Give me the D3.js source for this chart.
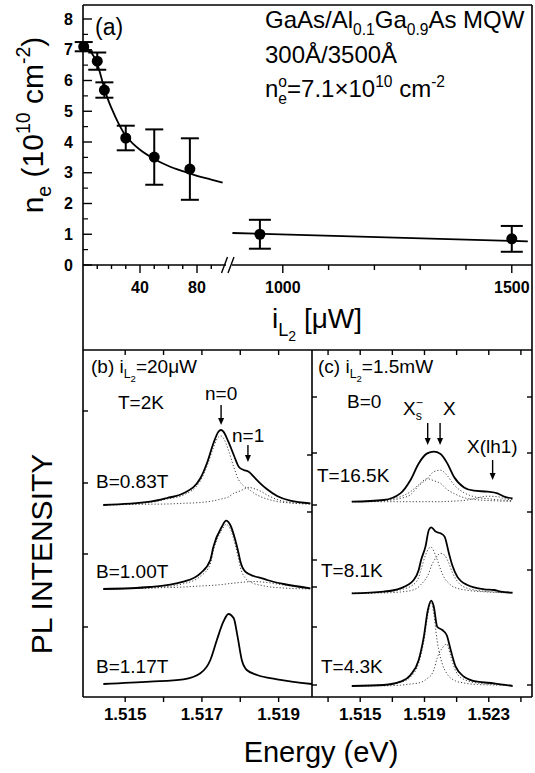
<!DOCTYPE html>
<html><head><meta charset="utf-8">
<script src="https://cdn.jsdelivr.net/npm/d3@7"></script>
<style>
body{margin:0;background:#fff}
text{font-family:"Liberation Sans",Arial,Helvetica,sans-serif;fill:#000}
</style></head><body>
<svg id="fig" width="535" height="773"></svg>
<script>
// ---------- DATA : panel (a) ----------
const powerLow = [0.5, 10, 15, 30, 50, 75];
const densityLow = [7.1, 6.63, 5.69, 4.13, 3.51, 3.12];
const errLow = [0.15, 0.28, 0.25, 0.4, 0.9, 1.0];
const powerHigh = [950, 1500];
const densityHigh = [1.0, 0.85];
const errHigh = [0.47, 0.42];
const fitLowPower = [0,4,8,11,14,17,20,25,30,35,40,50,60,70,80,90,98];
const fitLowDensity = [7.15,7.0,6.75,6.4,5.9,5.45,5.1,4.6,4.2,3.95,3.75,3.45,3.22,3.05,2.9,2.78,2.68];
const fitHighPower = [890, 1535];
const fitHighDensity = [1.04, 0.77];
const densityTicks = [0,1,2,3,4,5,6,7,8];
const powerTicksLow = [10,20,30,40,50,60,70,80,90];
const powerLabelsLow = [40, 80];
const powerTicksHigh = [1000,1100,1200,1300,1400,1500];
const powerLabelsHigh = [1000, 1500];

// ---------- DATA : panel (b) ----------
const energyTicksB = [1.515,1.516,1.517,1.518,1.519];
const energyLabelsB = [1.515,1.517,1.519];
const energyB1 = [1.51443,1.51565,1.51609,1.51652,1.51696,1.51713,1.51730,1.51743,1.51750,1.51756,1.51769,1.51783,1.51796,1.51809,1.51822,1.51835,1.51852,1.51870,1.51896,1.51930,1.51983];
const plB1   = [0,0.33,0.7,1.17,2.67,4.17,6.17,7.33,7.5,7.33,6.33,5.0,3.83,3.5,3.33,2.83,2.17,1.57,0.9,0.43,0.17];
const plB1n0 = [0,0.25,0.6,1.0,2.42,3.85,5.75,6.8,6.9,6.7,5.5,3.8,2.5,1.9,1.6,1.2,0.85,0.6,0.35,0.2,0.1];
const plB1n1 = [0,0.08,0.1,0.17,0.25,0.32,0.42,0.53,0.6,0.65,0.8,1.17,1.35,1.57,1.77,1.65,1.4,1.0,0.55,0.25,0.1];
const energyB2 = [1.51443,1.51565,1.51652,1.51696,1.51722,1.51730,1.51752,1.51763,1.51774,1.51787,1.51796,1.51800,1.51813,1.51835,1.51857,1.51870,1.51913,1.51983];
const plB2   = [0,0.2,0.73,1.57,2.9,4.23,6.23,6.83,6.4,4.9,3.5,2.8,1.73,1.3,1.07,0.9,0.5,0.07];
const plB2a  = [0,0.1,0.53,1.27,2.5,3.86,5.9,6.45,6.0,4.4,2.9,2.2,1.1,0.55,0.35,0.25,0.1,0];
const plB2b  = [0,0.1,0.2,0.3,0.35,0.37,0.45,0.5,0.55,0.6,0.64,0.66,0.7,0.75,0.7,0.65,0.4,0.07];
const energyB3 = [1.51443,1.51565,1.51652,1.51696,1.51722,1.51739,1.51756,1.51769,1.51783,1.51793,1.51804,1.51817,1.51844,1.51896,1.51987];
const plB3   = [0,0.23,0.47,1.07,2.4,4.4,6.23,7.0,6.57,4.73,2.4,1.4,0.9,0.47,0];
const offsetsB = [19.2, 10.8, 1.3];
const labelsB = ["B=0.83T", "B=1.00T", "B=1.17T"];

// ---------- DATA : panel (c) ----------
const energyTicksC = [1.513,1.515,1.517,1.519,1.521,1.523,1.525];
const energyLabelsC = [1.515,1.519,1.523];
const energyC1 = [1.51448,1.51646,1.51750,1.51813,1.51864,1.51917,1.51958,1.52000,1.52042,1.52083,1.52146,1.52208,1.52292,1.52354,1.52396,1.52448];
const plC1   = [0,0.17,0.83,2.17,3.83,4.83,5.0,4.77,3.83,2.5,1.43,1.1,1.0,0.83,0.5,0.33];
const plC1Xs = [0,0.15,0.5,1.0,1.7,2.3,2.1,1.83,1.2,0.83,0.4,0.23,0.12,0.08,0.05,0.03];
const plC1X  = [0,0.1,0.33,0.7,1.6,2.3,3.0,3.15,2.6,1.7,0.9,0.5,0.3,0.2,0.15,0.1];
const plC1Lh = [0,0,0,0,0,0,0,0,0.03,0.06,0.12,0.3,0.55,0.5,0.3,0.2];
const energyC2 = [1.51448,1.51646,1.51750,1.51833,1.51864,1.51879,1.51906,1.51927,1.51942,1.51969,1.52000,1.52025,1.52052,1.52073,1.52104,1.52167,1.52271,1.52333,1.52375,1.52448];
const plC2   = [0,0.17,0.5,1.33,2.33,3.33,4.67,6.33,6.6,6.17,6.0,5.67,4.0,2.8,1.67,0.83,0.4,0.33,0.17,0.07];
const plC2Xs = [0,0.13,0.35,0.9,1.6,2.4,3.8,4.5,4.6,3.8,2.4,1.5,1.0,0.7,0.5,0.3,0.15,0.1,0.07,0.03];
const plC2X  = [0,0.04,0.13,0.35,0.65,0.9,1.4,2.0,2.7,3.5,4.0,3.8,3.0,2.1,1.2,0.5,0.2,0.13,0.08,0.03];
const energyC3 = [1.51448,1.51646,1.51750,1.51813,1.51864,1.51896,1.51921,1.51942,1.51958,1.51979,1.52011,1.52038,1.52063,1.52094,1.52146,1.52229,1.52333,1.52448];
const plC3   = [0,0.1,0.43,1.1,2.6,4.93,7.6,8.53,7.93,5.93,5.6,5.1,3.6,1.93,0.93,0.43,0.27,0];
const plC3Xs = [0,0.08,0.35,0.9,2.3,4.5,7.2,8.4,7.2,4.5,2.2,1.27,0.8,0.5,0.3,0.15,0.1,0];
const plC3X  = [0,0.02,0.08,0.2,0.3,0.5,0.8,1.1,1.6,2.8,3.8,4.2,3.0,1.5,0.65,0.3,0.17,0.03];
const offsetsC = [19.53, 10.37, 1.1];
const labelsC = ["T=16.5K", "T=8.1K", "T=4.3K"];

// intensity ticks on frame edges
const ticksBLeft = [28.6, 21.4, 14.3, 7.0];
const ticksBRight = [24.2, 18.5];
const ticksCLeft = [30, 24.4, 19.2, 13.7, 11, 7, 1.2];
const ticksCRight = [30, 24.4, 18.5, 12.7, 1.2];

// ---------- LAYOUT ----------
const L = 83, R = 532, T = 5, AX = 265, MID = 350, BOT = 697, XM = 312;
const svg = d3.select("#fig");

const yA = d3.scaleLinear().domain([0, 8]).range([AX, 19]);
const xA1 = d3.scaleLinear().domain([0, 100]).range([L, 225.5]);
const xA2 = d3.scaleLinear().domain([900, 1540]).range([237, 530.1]);
const xB = d3.scaleLinear().domain([1.5139, 1.51987]).range([L, XM]);
const xC = d3.scaleLinear().domain([1.512, 1.52569]).range([XM, R]);
const yI = d3.scaleLinear().domain([0, 34.7]).range([BOT, MID]);

function rich(parent, x, y, fs, parts, opts = {}) {
  const t = parent.append("text").attr("x", x).attr("y", y).attr("font-size", fs);
  if (opts.anchor) t.attr("text-anchor", opts.anchor);
  if (opts.weight) t.attr("font-weight", opts.weight);
  let cur = 0;
  parts.forEach(p => {
    if (typeof p === "string") p = { t: p };
    let shift = 0, size = fs;
    if (p.sub) { shift = fs * 0.28; size = fs * 0.65; }
    if (p.subsub) { shift = fs * 0.45; size = fs * 0.5; }
    if (p.sup) { shift = -fs * 0.42; size = fs * 0.65; }
    const ts = t.append("tspan").text(p.t).attr("dy", shift - cur).attr("font-size", size);
    if (p.dx) ts.attr("dx", p.dx);
    cur = shift;
  });
  return t;
}

const line = (x1, y1, x2, y2, w = 1.6) => svg.append("line")
  .attr("x1", x1).attr("y1", y1).attr("x2", x2).attr("y2", y2)
  .attr("stroke", "#000").attr("stroke-width", w);

// ---------- FRAME ----------
line(L, T, R, T);
line(L, T, L, BOT);
line(R, T, R, BOT);
line(L, MID, R, MID);
line(L, BOT, R, BOT);
line(XM, MID, XM, BOT);
line(L, AX, 226, AX);
line(232, AX, R, AX);
line(221.5, 273, 227.5, 257, 1.4);
line(228, 273, 234, 257, 1.4);

// ---------- PANEL (a) axes ----------
densityTicks.forEach(v => {
  line(L, yA(v), L + 9, yA(v), 1.4);
  svg.append("text").attr("x", 73).attr("y", yA(v) + 5.5).attr("text-anchor", "end")
    .attr("font-size", 16).attr("font-weight", "bold").text(v);
});
densityTicks.slice(0, -1).forEach(v => line(L, yA(v + 0.5), L + 5, yA(v + 0.5), 1.2));
powerTicksLow.forEach(v => {
  const major = powerLabelsLow.includes(v);
  line(xA1(v), AX, xA1(v), AX + (major ? 8 : 4), 1.4);
});
powerLabelsLow.forEach(v => svg.append("text").attr("x", xA1(v)).attr("y", 293)
  .attr("text-anchor", "middle").attr("font-size", 16).attr("font-weight", "bold").text(v));
powerTicksHigh.forEach(v => {
  const major = powerLabelsHigh.includes(v);
  line(xA2(v), AX, xA2(v), AX + (major ? 8 : 5), 1.4);
});
powerLabelsHigh.forEach(v => svg.append("text").attr("x", xA2(v)).attr("y", 293)
  .attr("text-anchor", "middle").attr("font-size", 16).attr("font-weight", "bold").text(v));

// fit curves
svg.append("path")
  .datum(fitLowPower.map((p, i) => [p, fitLowDensity[i]]))
  .attr("d", d3.line().x(d => xA1(d[0])).y(d => yA(d[1])).curve(d3.curveMonotoneX))
  .attr("fill", "none").attr("stroke", "#000").attr("stroke-width", 1.8);
svg.append("path")
  .datum(fitHighPower.map((p, i) => [p, fitHighDensity[i]]))
  .attr("d", d3.line().x(d => xA2(d[0])).y(d => yA(d[1])))
  .attr("fill", "none").attr("stroke", "#000").attr("stroke-width", 1.8);

// points with error bars
function points(xs, ys, es, sx, cap) {
  xs.forEach((p, i) => {
    const x = sx(p);
    line(x, yA(ys[i] - es[i]), x, yA(ys[i] + es[i]), 2);
    line(x - cap, yA(ys[i] - es[i]), x + cap, yA(ys[i] - es[i]), 2);
    line(x - cap, yA(ys[i] + es[i]), x + cap, yA(ys[i] + es[i]), 2);
    svg.append("circle").attr("cx", x).attr("cy", yA(ys[i])).attr("r", 5.5).attr("fill", "#000");
  });
}
points(powerLow, densityLow, errLow, xA1, 9);
points(powerHigh, densityHigh, errHigh, xA2, 11);

// panel (a) texts
svg.append("text").attr("x", 95).attr("y", 35).attr("font-size", 23).text("(a)");
rich(svg, 265, 28, 24, ["GaAs/Al", { t: "0.1", sub: 1 }, "Ga", { t: "0.9", sub: 1 }, "As MQW"]);
rich(svg, 265, 63, 24, ["300Å/3500Å"]);
rich(svg, 265, 97, 24, ["n", { t: "o", sup: 1 }, { t: "e", sub: 1, dx: -8.7 }, "=7.1×10", { t: "10", sup: 1 }, " cm", { t: "-2", sup: 1 }]);
const gy = svg.append("g").attr("transform", "translate(43,125) rotate(-90)");
rich(gy, 0, 0, 30, ["n", { t: "e", sub: 1 }, " (10", { t: "10", sup: 1 }, " cm", { t: "-2", sup: 1 }, ")"], { anchor: "middle" });
rich(svg, 272, 328, 28, ["i", { t: "L", sub: 1 }, { t: "2", subsub: 1 }, " [μW]"]);

// ---------- PANELS (b),(c) axes ----------
energyTicksB.forEach(v => { line(xB(v), BOT, xB(v), BOT + 5, 1.4); line(xB(v), MID, xB(v), MID + 5, 1.4); });
energyLabelsB.forEach(v => svg.append("text").attr("x", xB(v)).attr("y", 720).attr("text-anchor", "middle")
  .attr("font-size", 17).attr("font-weight", "bold").text(d3.format(".3f")(v)));
energyTicksC.forEach(v => { line(xC(v), BOT, xC(v), BOT + 5, 1.4); line(xC(v), MID, xC(v), MID + 5, 1.4); });
energyLabelsC.forEach(v => svg.append("text").attr("x", xC(v)).attr("y", 720).attr("text-anchor", "middle")
  .attr("font-size", 17).attr("font-weight", "bold").text(d3.format(".3f")(v)));
ticksBLeft.forEach(v => line(L, yI(v), L + 5, yI(v), 1.4));
ticksBRight.forEach(v => line(XM, yI(v), XM - 5, yI(v), 1.4));
ticksCLeft.forEach(v => line(XM, yI(v), XM + 5, yI(v), 1.4));
ticksCRight.forEach(v => line(R, yI(v), R - 5, yI(v), 1.4));

// traces
function trace(sx, es, vs, off, dotted) {
  svg.append("path")
    .datum(es.map((e, i) => [e, vs[i]]))
    .attr("d", d3.line().x(d => sx(d[0])).y(d => yI(off + d[1])).curve(d3.curveMonotoneX))
    .attr("fill", "none")
    .attr("stroke", dotted ? "#444" : "#000")
    .attr("stroke-width", dotted ? 1 : 1.8)
    .attr("stroke-dasharray", dotted ? "1.2,2" : null);
}
trace(xB, energyB1, plB1n0, offsetsB[0], true);
trace(xB, energyB1, plB1n1, offsetsB[0], true);
trace(xB, energyB1, plB1, offsetsB[0], false);
trace(xB, energyB2, plB2a, offsetsB[1], true);
trace(xB, energyB2, plB2b, offsetsB[1], true);
trace(xB, energyB2, plB2, offsetsB[1], false);
trace(xB, energyB3, plB3, offsetsB[2], false);

trace(xC, energyC1, plC1Xs, offsetsC[0], true);
trace(xC, energyC1, plC1X, offsetsC[0], true);
trace(xC, energyC1, plC1Lh, offsetsC[0], true);
trace(xC, energyC1, plC1, offsetsC[0], false);
trace(xC, energyC2, plC2Xs, offsetsC[1], true);
trace(xC, energyC2, plC2X, offsetsC[1], true);
trace(xC, energyC2, plC2, offsetsC[1], false);
trace(xC, energyC3, plC3Xs, offsetsC[2], true);
trace(xC, energyC3, plC3X, offsetsC[2], true);
trace(xC, energyC3, plC3, offsetsC[2], false);

// arrows (energy, top intensity, bottom intensity)
const arrowsB = [[1.5175, 29.2, 27.2], [1.5182, 25.2, 23.5]];
const arrowsC = [[1.5192, 27.4, 25.2], [1.51997, 27.4, 25.2], [1.52324, 23.7, 21.7]];
function arrow(x, y1, y2) {
  line(x, y1, x, y2 - 5, 1.4);
  svg.append("path").attr("d", `M${x - 3},${y2 - 7} L${x + 3},${y2 - 7} L${x},${y2} Z`).attr("fill", "#000");
}
arrowsB.forEach(a => arrow(xB(a[0]), yI(a[1]), yI(a[2])));
arrowsC.forEach(a => arrow(xC(a[0]), yI(a[1]), yI(a[2])));

// bottom texts
const FS = 19;
rich(svg, 91, 373, FS, ["(b) i", { t: "L", sub: 1 }, { t: "2", subsub: 1 }, "=20μW"]);
rich(svg, 118, 409, FS, ["T=2K"]);
rich(svg, 205, 400, FS, ["n=0"]);
rich(svg, 232, 442, FS, ["n=1"]);
[488, 578, 673].forEach((y, i) => rich(svg, 96, y, FS, [labelsB[i]]));
rich(svg, 318, 373, FS, ["(c) i", { t: "L", sub: 1 }, { t: "2", subsub: 1 }, "=1.5mW"]);
rich(svg, 347, 408, FS, ["B=0"]);
rich(svg, 403, 415, FS, ["X", { t: "s", sub: 1 }, { t: "−", sup: 1, dx: -6 }]);
rich(svg, 443, 415, FS, ["X"]);
rich(svg, 467, 453, FS, ["X(lh1)"]);
[482, 577, 673].forEach((y, i) => rich(svg, i === 0 ? 317 : 321, y, FS, [labelsC[i]]));

// axis titles
svg.append("g").attr("transform", "translate(52,554) rotate(-90)")
  .append("text").attr("text-anchor", "middle").attr("font-size", 30).text("PL INTENSITY");
svg.append("text").attr("x", 321).attr("y", 762).attr("text-anchor", "middle").attr("font-size", 29).text("Energy (eV)");
</script>
</body></html>
